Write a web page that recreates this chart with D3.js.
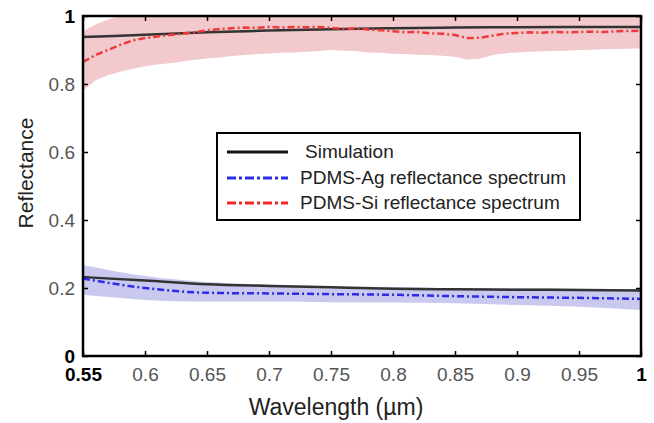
<!DOCTYPE html>
<html>
<head>
<meta charset="utf-8">
<script src="https://cdn.jsdelivr.net/npm/d3@7"></script>
<style>
  body { margin: 0; background: #fff; }
  svg { display: block; font-family: "Liberation Sans", Arial, sans-serif; }
</style>
</head>
<body>
<svg id="chart" width="654" height="423"></svg>
<script>
// wavelengths (um)
var wlCoarse = [0.55, 0.60, 0.65, 0.70, 0.75, 0.80, 0.85, 0.90, 0.95, 1.00];
var wlFine = [0.55, 0.56, 0.57, 0.58, 0.59, 0.60, 0.61, 0.62, 0.63, 0.64,
              0.65, 0.66, 0.67, 0.68, 0.69, 0.70, 0.71, 0.72, 0.73, 0.74,
              0.75, 0.76, 0.77, 0.78, 0.79, 0.80, 0.81, 0.82, 0.83, 0.84,
              0.85, 0.86, 0.87, 0.88, 0.89, 0.90, 0.91, 0.92, 0.93, 0.94,
              0.95, 0.96, 0.97, 0.98, 0.99, 1.00];

// simulation curves
var simSi = [0.938, 0.945, 0.952, 0.957, 0.961, 0.964, 0.966, 0.967, 0.968, 0.968];
var simAg = [0.232, 0.222, 0.211, 0.206, 0.202, 0.198, 0.196, 0.195, 0.194, 0.193];

// PDMS-Ag measured + band
var agMean  = [0.228, 0.200, 0.186, 0.184, 0.182, 0.180, 0.176, 0.173, 0.171, 0.168];
var agUpper = [0.268, 0.235, 0.218, 0.210, 0.205, 0.203, 0.200, 0.200, 0.198, 0.197];
var agLower = [0.180, 0.165, 0.160, 0.160, 0.158, 0.157, 0.155, 0.150, 0.145, 0.135];

// PDMS-Si measured + band
var siMean = [0.865, 0.885, 0.900, 0.915, 0.928, 0.935, 0.940, 0.944, 0.948, 0.952,
              0.958, 0.962, 0.964, 0.966, 0.965, 0.968, 0.966, 0.968, 0.967, 0.968,
              0.965, 0.962, 0.963, 0.960, 0.958, 0.955, 0.952, 0.953, 0.949, 0.948,
              0.944, 0.935, 0.936, 0.942, 0.948, 0.950, 0.952, 0.951, 0.953, 0.952,
              0.953, 0.954, 0.953, 0.955, 0.956, 0.957];
var siUpper = [0.955, 0.975, 0.990, 1.000, 1.000, 1.000, 1.000, 1.000, 1.000, 1.000,
               1.000, 1.000, 1.000, 1.000, 1.000, 1.000, 1.000, 1.000, 1.000, 1.000,
               1.000, 1.000, 1.000, 1.000, 1.000, 1.000, 1.000, 1.000, 1.000, 1.000,
               1.000, 1.000, 1.000, 1.000, 1.000, 1.000, 1.000, 1.000, 1.000, 1.000,
               1.000, 1.000, 1.000, 1.000, 1.000, 1.000];
var siLower = [0.780, 0.810, 0.826, 0.836, 0.845, 0.852, 0.857, 0.861, 0.866, 0.871,
               0.875, 0.878, 0.882, 0.885, 0.888, 0.890, 0.892, 0.893, 0.895, 0.897,
               0.900, 0.898, 0.897, 0.893, 0.892, 0.889, 0.888, 0.886, 0.885, 0.883,
               0.880, 0.872, 0.874, 0.885, 0.890, 0.893, 0.895, 0.896, 0.897, 0.898,
               0.900, 0.901, 0.902, 0.903, 0.904, 0.905];

var xTicks = [0.55, 0.6, 0.65, 0.7, 0.75, 0.8, 0.85, 0.9, 0.95, 1];
var yTicks = [0, 0.2, 0.4, 0.6, 0.8, 1];
var legendLabels = ["Simulation", "PDMS-Ag reflectance spectrum", "PDMS-Si reflectance spectrum"];

var svg = d3.select("#chart");
// plot box edges (note: "top" is reserved on window, so prefix these)
var plotLeft = 83, plotRight = 641, plotTop = 16, plotBottom = 356;

var x = d3.scaleLinear().domain([0.55, 1]).range([plotLeft, plotRight]);
var y = d3.scaleLinear().domain([0, 1]).range([plotBottom, plotTop]);

svg.append("clipPath").attr("id", "plotClip")
    .append("rect")
    .attr("x", plotLeft).attr("y", plotTop)
    .attr("width", plotRight - plotLeft).attr("height", plotBottom - plotTop);

var plot = svg.append("g").attr("clip-path", "url(#plotClip)");

function zip(xs, ys) {
    return xs.map(function(v, i) { return [v, ys[i]]; });
}

function band(xs, lo, hi, curve) {
    return d3.area()
        .x(function(d, i) { return x(xs[i]); })
        .y0(function(d, i) { return y(lo[i]); })
        .y1(function(d, i) { return y(hi[i]); })
        .curve(curve)(xs);
}

var line = d3.line()
    .x(function(d) { return x(d[0]); })
    .y(function(d) { return y(d[1]); });

// shaded bands
plot.append("path")
    .attr("d", band(wlFine, siLower, siUpper, d3.curveLinear))
    .attr("fill", "#f2c9cd");
plot.append("path")
    .attr("d", band(wlCoarse, agLower, agUpper, d3.curveMonotoneX))
    .attr("fill", "#c9c9f0");

// simulation
[simSi, simAg].forEach(function(s) {
    plot.append("path")
        .attr("d", line.curve(d3.curveMonotoneX)(zip(wlCoarse, s)))
        .attr("fill", "none")
        .attr("stroke", "#333")
        .attr("stroke-width", 2.5);
});

// measured
plot.append("path")
    .attr("d", line.curve(d3.curveMonotoneX)(zip(wlCoarse, agMean)))
    .attr("fill", "none")
    .attr("stroke", "#2b2be8")
    .attr("stroke-width", 2.5)
    .attr("stroke-dasharray", "7,3,2,3");
plot.append("path")
    .attr("d", line.curve(d3.curveLinear)(zip(wlFine, siMean)))
    .attr("fill", "none")
    .attr("stroke", "#ee3a3a")
    .attr("stroke-width", 2.5)
    .attr("stroke-dasharray", "7,3,2,3");

// axes
function styleAxis(g) {
    g.select(".domain").remove();
    g.selectAll(".tick line").attr("stroke", "#000").attr("stroke-width", 1.5);
}

svg.append("g")
    .attr("transform", "translate(0," + plotBottom + ")")
    .call(d3.axisBottom(x).tickValues(xTicks).tickSize(-5).tickPadding(12)
        .tickFormat(function(d) { return d3.format("")(d); }))
    .call(styleAxis)
    .selectAll("text")
    .attr("font-size", 19)
    .attr("font-family", "Liberation Sans, Arial, sans-serif")
    .attr("fill", function(d) { return (d === 0.55 || d === 1) ? "#000" : "#555"; })
    .attr("font-weight", function(d) { return (d === 0.55 || d === 1) ? "bold" : "normal"; });

svg.append("g")
    .attr("transform", "translate(" + plotLeft + ",0)")
    .call(d3.axisLeft(y).tickValues(yTicks).tickSize(-5).tickPadding(8)
        .tickFormat(function(d) { return d3.format("")(d); }))
    .call(styleAxis)
    .selectAll("text")
    .attr("font-size", 19)
    .attr("font-family", "Liberation Sans, Arial, sans-serif")
    .attr("fill", function(d) { return (d === 0 || d === 1) ? "#000" : "#555"; })
    .attr("font-weight", function(d) { return (d === 0 || d === 1) ? "bold" : "normal"; });

svg.append("g")
    .attr("transform", "translate(0," + plotTop + ")")
    .call(d3.axisTop(x).tickValues(xTicks).tickSize(-5).tickFormat(""))
    .call(styleAxis);

svg.append("g")
    .attr("transform", "translate(" + plotRight + ",0)")
    .call(d3.axisRight(y).tickValues(yTicks).tickSize(-5).tickFormat(""))
    .call(styleAxis);

// frame
svg.append("rect")
    .attr("x", plotLeft).attr("y", plotTop)
    .attr("width", plotRight - plotLeft).attr("height", plotBottom - plotTop)
    .attr("fill", "none")
    .attr("stroke", "#000")
    .attr("stroke-width", 2.5);

// axis titles
svg.append("text")
    .attr("x", 336).attr("y", 415)
    .attr("text-anchor", "middle")
    .attr("font-size", 23)
    .attr("fill", "#222")
    .text("Wavelength (\u00b5m)");

svg.append("text")
    .attr("transform", "translate(33,173) rotate(-90)")
    .attr("text-anchor", "middle")
    .attr("font-size", 21)
    .attr("fill", "#222")
    .text("Reflectance");

// legend
var legend = svg.append("g");
legend.append("rect")
    .attr("x", 217).attr("y", 133)
    .attr("width", 363).attr("height", 87)
    .attr("fill", "#fff")
    .attr("stroke", "#000")
    .attr("stroke-width", 2);

var legendStyles = [
    { color: "#111", dash: null },
    { color: "#2b2be8", dash: "9,3,3,3" },
    { color: "#ee2a2a", dash: "9,3,3,3" }
];
var legendY = [152, 178, 203];
var legendTextX = [305, 300, 300];

legendLabels.forEach(function(label, i) {
    legend.append("line")
        .attr("x1", 227).attr("x2", 288)
        .attr("y1", legendY[i]).attr("y2", legendY[i])
        .attr("stroke", legendStyles[i].color)
        .attr("stroke-width", 3)
        .attr("stroke-dasharray", legendStyles[i].dash);
    legend.append("text")
        .attr("x", legendTextX[i]).attr("y", legendY[i] + 6)
        .attr("font-size", 19)
        .attr("fill", "#222")
        .text(label);
});
</script>
</body>
</html>
